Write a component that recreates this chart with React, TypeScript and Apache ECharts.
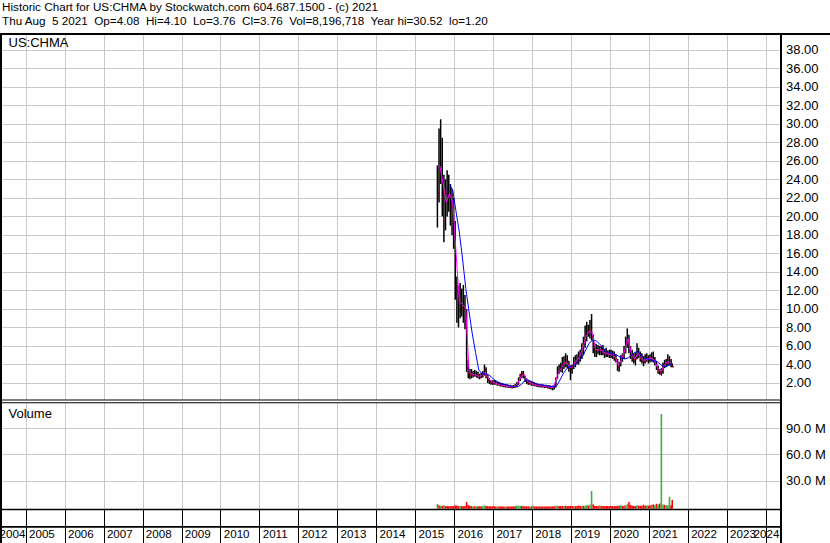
import React, { useEffect, useRef } from 'react';
import * as echarts from 'echarts';

const TITLE_1 = 'Historic Chart for US:CHMA by Stockwatch.com 604.687.1500 - (c) 2021';
const TITLE_2 = 'Thu Aug  5 2021  Op=4.08  Hi=4.10  Lo=3.76  Cl=3.76  Vol=8,196,718  Year hi=30.52  lo=1.20';
const SYMBOL = 'US:CHMA';
const VOLUME_LABEL = 'Volume';

const yearTicks = [2004, 2005, 2006, 2007, 2008, 2009, 2010, 2011, 2012, 2013, 2014, 2015, 2016, 2017, 2018, 2019, 2020, 2021, 2022, 2023, 2024];
const priceTicks = [2, 4, 6, 8, 10, 12, 14, 16, 18, 20, 22, 24, 26, 28, 30, 32, 34, 36, 38];
const volumeTicks = [30e6, 60e6, 90e6];

// half-month bars, first = second half of July 2015, last = first half of Aug 2021
const highs = [
  25.5, 29.5, 30.5, 28.5, 24.5, 24, 25, 24.5, 23.5, 23, 22,
  19.5, 13.5, 12.5, 12.8, 12.2, 12.6, 11.5, 10, 4.5, 3.5, 3.5, 3.3, 3.4, 3.3, 3.2, 3.0, 3.1, 3.3, 4.0, 3.7, 2.9, 2.5, 2.3, 2.3,
  2.3, 2.2, 2.1, 2.1, 2.0, 2.0, 1.9, 1.9, 1.85, 1.8, 1.8, 1.75, 1.8, 1.9, 2.1, 2.6, 3.0, 3.3, 3.3, 2.8, 2.5, 2.3, 2.2, 2.1,
  2.1, 2.0, 1.95, 1.9, 1.9, 1.85, 1.85, 1.8, 1.8, 1.75, 1.75, 1.7, 1.7, 1.8, 2.6, 3.8, 4.0, 4.2, 4.8, 4.9, 5.2, 5.0, 4.4, 3.9,
  4.0, 4.8, 5.0, 5.1, 5.4, 5.6, 6.3, 7.0, 8.2, 8.6, 8.3, 8.8, 9.45, 7.2, 6.3, 6.2, 6.1, 6.0, 6.0, 6.1, 5.7, 5.8, 5.5, 5.6,
  5.6, 5.5, 5.4, 5.1, 4.6, 4.3, 5.0, 5.2, 6.0, 7.0, 7.9, 7.2, 6.0, 5.6, 5.2, 5.3, 6.3, 5.8, 5.4, 5.2, 4.9, 5.1, 5.2, 5.0,
  5.1, 5.3, 5.4, 4.8, 4.4, 3.9, 3.5, 3.6, 4.2, 4.5, 4.6, 5.1, 4.9, 4.6, 4.1,
];
const lows = [
  18.8, 21.5, 23.5, 20, 17.2, 18.5, 20, 20.5, 19, 18, 16.5,
  11, 8.5, 8, 9, 9.2, 8.5, 7.8, 3.2, 2.5, 2.4, 2.5, 2.6, 2.7, 2.6, 2.5, 2.4, 2.5, 2.6, 2.8, 2.5, 2.0, 1.9, 1.8, 1.8,
  1.8, 1.8, 1.7, 1.7, 1.6, 1.6, 1.55, 1.5, 1.5, 1.45, 1.45, 1.4, 1.45, 1.5, 1.55, 1.8, 2.2, 2.5, 2.5, 2.1, 1.9, 1.8, 1.8, 1.7,
  1.7, 1.65, 1.6, 1.55, 1.55, 1.5, 1.5, 1.45, 1.45, 1.4, 1.35, 1.3, 1.2, 1.3, 1.5, 2.5, 3.0, 3.2, 3.1, 3.5, 3.7, 3.6, 3.2, 2.3,
  3.0, 3.5, 3.7, 4.0, 4.0, 4.3, 4.6, 5.0, 5.8, 6.5, 7.0, 6.8, 6.6, 5.2, 4.8, 4.8, 5.1, 5.0, 5.0, 5.0, 4.7, 4.8, 4.8, 4.7,
  4.7, 4.6, 4.4, 4.2, 3.3, 3.2, 3.8, 4.3, 4.6, 5.2, 5.8, 5.2, 4.6, 4.3, 4.1, 3.9, 4.6, 4.7, 4.3, 4.1, 3.8, 4.1, 4.3, 4.1,
  4.2, 4.3, 4.2, 3.9, 3.4, 3.0, 2.9, 2.8, 3.0, 3.6, 3.7, 3.9, 3.9, 3.7, 3.7,
];
const closes = [
  22.5, 27, 25.5, 22, 19.5, 22.5, 23.5, 22, 21, 20.5, 18.5,
  12.5, 10.5, 10, 11, 10.2, 10, 9.5, 3.6, 3.0, 2.8, 2.9, 2.9, 3.0, 2.8, 2.8, 2.7, 2.8, 3.0, 3.4, 2.7, 2.3, 2.1, 2.1, 2.0,
  2.0, 1.9, 1.9, 1.8, 1.8, 1.7, 1.7, 1.65, 1.6, 1.55, 1.6, 1.55, 1.6, 1.7, 1.9, 2.4, 2.8, 3.0, 2.7, 2.3, 2.1, 2.0, 1.9, 1.9,
  1.9, 1.8, 1.75, 1.7, 1.7, 1.65, 1.65, 1.6, 1.6, 1.55, 1.5, 1.5, 1.45, 1.6, 2.4, 3.4, 3.5, 3.8, 4.0, 4.2, 4.5, 4.0, 3.6, 3.5,
  3.7, 4.2, 4.5, 4.6, 4.8, 5.0, 5.6, 6.2, 7.4, 7.6, 7.6, 7.8, 7.0, 5.8, 5.4, 5.6, 5.6, 5.5, 5.6, 5.4, 5.2, 5.3, 5.1, 5.0,
  5.2, 5.0, 4.8, 4.5, 3.7, 3.9, 4.6, 4.8, 5.5, 6.4, 6.8, 5.7, 5.1, 4.7, 4.5, 4.6, 5.4, 5.0, 4.7, 4.5, 4.3, 4.6, 4.7, 4.5,
  4.6, 4.8, 4.5, 4.2, 3.7, 3.3, 3.1, 3.2, 3.8, 4.0, 4.2, 4.6, 4.2, 4.0, 3.76,
];
// volume in millions, same half-month periods
const volumes = [
  3.4, 2.0, 1.5, 1.2, 2.0, 1.0, 1.0, 0.9, 0.8, 1.0, 1.1,
  1.8, 1.6, 1.2, 1.0, 1.0, 1.0, 1.0, 5.7, 2.0, 1.4, 1.0, 0.9, 0.8, 0.8, 0.8, 0.8, 0.8, 0.9, 1.8, 1.0, 1.0, 0.9, 0.8, 0.8,
  0.8, 0.7, 0.7, 0.7, 0.7, 0.6, 0.6, 0.6, 0.6, 0.6, 0.6, 0.6, 0.7, 0.8, 1.8, 1.5, 1.5, 1.2, 1.0, 0.8, 0.7, 0.7, 0.7, 0.7,
  1.5, 0.7, 0.7, 0.6, 0.6, 0.6, 0.6, 0.6, 0.6, 0.6, 0.6, 0.6, 0.8, 0.8, 1.5, 1.5, 1.2, 1.0, 1.2, 1.0, 1.5, 1.0, 1.0, 1.2,
  1.2, 1.0, 1.0, 1.0, 1.5, 1.2, 1.2, 1.5, 1.5, 2.3, 1.5, 2.5, 18.3, 3.0, 1.5, 1.2, 1.2, 2.0, 1.2, 1.0, 1.0, 1.0, 1.0, 1.0,
  1.0, 1.0, 1.0, 1.2, 1.5, 1.5, 2.0, 1.2, 1.5, 2.0, 3.0, 5.7, 2.5, 1.5, 1.2, 1.2, 2.0, 1.5, 1.2, 1.5, 2.5, 1.5, 2.0, 1.5,
  2.0, 2.5, 3.0, 2.0, 3.7, 3.0, 4.0, 106.5, 3.0, 2.5, 2.0, 2.0, 11.8, 2.0, 8.2,
];
const volumeColors = [
  'g', 'r', 'g', 'r', 'g', 'r', 'r', 'r', 'r', 'r', 'r',
  'r', 'r', 'r', 'g', 'r', 'r', 'r', 'r', 'r', 'r', 'r', 'g', 'r', 'g', 'r', 'r', 'r', 'g', 'g', 'r', 'r', 'r', 'r', 'r',
  'r', 'r', 'g', 'r', 'r', 'r', 'r', 'g', 'r', 'r', 'r', 'r', 'r', 'r', 'g', 'g', 'g', 'r', 'r', 'r', 'r', 'r', 'g', 'r',
  'g', 'r', 'r', 'r', 'r', 'r', 'r', 'r', 'r', 'r', 'r', 'r', 'r', 'r', 'g', 'g', 'r', 'r', 'r', 'g', 'r', 'r', 'r', 'r',
  'r', 'g', 'r', 'r', 'r', 'r', 'g', 'r', 'g', 'g', 'r', 'g', 'g', 'r', 'r', 'r', 'r', 'g', 'r', 'r', 'r', 'r', 'r', 'r',
  'r', 'r', 'r', 'r', 'r', 'r', 'g', 'r', 'r', 'g', 'g', 'r', 'r', 'r', 'r', 'r', 'g', 'r', 'r', 'r', 'r', 'r', 'g', 'r',
  'r', 'g', 'r', 'g', 'r', 'g', 'r', 'g', 'g', 'r', 'g', 'g', 'g', 'r', 'r',
];
// short moving average (magenta), monthly from Aug 2015 to Aug 2021
const shortAvg = [
  25.5, 23.5, 21.5, 22.5, 21.5,
  16, 10.8, 10.5, 10.0, 3.2, 2.9, 2.9, 2.7, 2.8, 3.2, 2.5, 2.1,
  2.0, 1.85, 1.75, 1.7, 1.6, 1.6, 1.6, 1.95, 2.7, 2.9, 2.2, 1.95,
  1.85, 1.75, 1.7, 1.65, 1.6, 1.55, 1.5, 2.6, 3.4, 3.9, 4.3, 3.7,
  3.8, 4.4, 4.8, 5.7, 7.0, 7.6, 7.4, 5.6, 5.6, 5.5, 5.2, 5.1,
  5.1, 4.8, 3.9, 4.5, 5.6, 6.8, 5.2, 4.6, 5.2, 4.7, 4.4, 4.6,
  4.7, 4.5, 3.7, 3.2, 3.8, 4.3, 4.2, 4.0,
];
// long moving average (blue), monthly from Nov 2015 to Aug 2021
const longAvg = [
  23.5, 22.8,
  20.5, 18.3, 15.4, 12.2, 9.7, 7.3, 5.3, 3.4, 3.0, 3.0, 2.9, 2.6,
  2.3, 2.1, 1.95, 1.85, 1.75, 1.65, 1.6, 1.6, 1.8, 2.2, 2.35, 2.2,
  2.05, 1.9, 1.8, 1.75, 1.7, 1.65, 1.6, 1.7, 2.3, 3.0, 3.5, 3.8,
  3.8, 4.1, 4.4, 4.9, 5.6, 6.3, 6.6, 6.6, 6.3, 5.9, 5.4, 5.3,
  5.2, 5.1, 4.9, 4.7, 4.6, 4.7, 5.0, 5.3, 5.4, 5.0, 4.7, 4.6,
  4.5, 4.4, 4.3, 4.0, 3.8, 3.8, 4.0, 4.1,
];

const LAST_DATE = 2021.592;
const X_MIN = 2004;
const X_MAX = 2024.384;
const PRICE_MIN = 0.16;
const PRICE_MAX = 39.68;
const VOL_MIN = -1.95e6;
const VOL_MAX = 119.1e6;
const FONT = 'Arial, "Liberation Sans", sans-serif';

function halfMonthTimes(y0: number, m0: number, h0: number, n: number) {
  const out: number[] = [];
  let y = y0, m = m0, h = h0;
  for (let i = 0; i < n; i++) {
    out.push(Math.min(LAST_DATE, y + (m - 1) / 12 + (h * 0.5 + 0.25) / 12));
    h++;
    if (h > 1) { h = 0; m++; if (m > 12) { m = 1; y++; } }
  }
  return out;
}
function monthTimes(y0: number, m0: number, n: number) {
  const out: number[] = [];
  let y = y0, m = m0;
  for (let i = 0; i < n; i++) {
    out.push(Math.min(LAST_DATE, y + (m - 1) / 12 + 0.5 / 12));
    m++;
    if (m > 12) { m = 1; y++; }
  }
  return out;
}

const barTimes = halfMonthTimes(2015, 7, 1, closes.length);
const bars = barTimes.map((t, i) => [t, highs[i], lows[i], closes[i]]);
const volData = barTimes.map((t, i) => [t, volumes[i] * 1e6, volumeColors[i] === 'g' ? 1 : 0]);
const shortTimes = monthTimes(2015, 8, shortAvg.length);
const longTimes = monthTimes(2015, 11, longAvg.length);
const shortData = shortTimes.map((t, i) => [t, shortAvg[i]]);
const longData = longTimes.map((t, i) => [t, longAvg[i]]);

function buildOption(): any {
  const gridX = (gi: number) => ({
    type: 'value', gridIndex: gi, min: X_MIN, max: X_MAX,
    axisLine: { show: false },
    axisTick: { show: false, customValues: yearTicks },
    axisLabel: { show: false },
    splitLine: { show: true, lineStyle: { color: '#c8c8c8', width: 1 } },
  });
  const rect = (x: number, y: number, w: number, h: number) => ({
    type: 'rect', z: 50, silent: true, shape: { x, y, width: w, height: h }, style: { fill: '#000' },
  });
  const yearRich = {
    mid: { width: 30, align: 'left', padding: [0, 0, 0, 36], fontSize: 11.6, fontFamily: FONT, color: '#000' },
    first: { width: 30, align: 'left', padding: [0, 0, 0, 55], fontSize: 11.6, fontFamily: FONT, color: '#000' },
    last: { width: 30, align: 'left', padding: [0, 0, 0, 5], fontSize: 11.6, fontFamily: FONT, color: '#000' },
  };
  const yearFormatter = (v: number) => {
    const key = v === yearTicks[0] ? 'first' : v === yearTicks[yearTicks.length - 1] ? 'last' : 'mid';
    return '{' + key + '|' + v + '}';
  };
  const gridBase = { left: -12.95, right: 49, containLabel: false, outerBoundsMode: 'none' };
  return {
    animation: false,
    backgroundColor: '#fff',
    title: [
      { text: TITLE_1, left: 2, top: 0, padding: 0, textStyle: { fontSize: 11.7, fontWeight: 'normal', color: '#000', fontFamily: FONT } },
      { text: TITLE_2, left: 2, top: 14, padding: 0, textStyle: { fontSize: 11.7, fontWeight: 'normal', color: '#000', fontFamily: FONT } },
      { text: SYMBOL, left: 8.5, top: 35.5, padding: 0, textStyle: { fontSize: 13, fontWeight: 'normal', color: '#000', fontFamily: FONT } },
      { text: VOLUME_LABEL, left: 8.5, top: 407, padding: 0, textStyle: { fontSize: 13, fontWeight: 'normal', color: '#000', fontFamily: FONT } },
    ],
    grid: [
      { ...gridBase, top: 34.3, height: 365.7 },
      { ...gridBase, top: 403, height: 105.7 },
      { ...gridBase, top: 509, height: 34 },
    ],
    xAxis: [
      gridX(0),
      gridX(1),
      {
        type: 'value', gridIndex: 2, position: 'top', min: X_MIN, max: X_MAX,
        axisLine: { show: false },
        axisTick: { show: false, customValues: yearTicks },
        axisLabel: {
          show: true, inside: true, margin: 18.5, customValues: yearTicks.slice(0, -1),
          showMinLabel: true, showMaxLabel: true, hideOverlap: false,
          color: '#000', fontSize: 11.6, fontFamily: FONT,
          formatter: yearFormatter, rich: yearRich,
        },
        splitLine: { show: true, lineStyle: { color: '#000', width: 1 } },
      },
      {
        type: 'value', gridIndex: 2, position: 'top', min: X_MIN, max: X_MAX,
        axisLine: { show: false },
        axisTick: { show: false, customValues: yearTicks.slice(-1) },
        axisLabel: {
          show: true, inside: true, margin: 18.5, customValues: yearTicks.slice(-1),
          showMinLabel: true, showMaxLabel: true, hideOverlap: false,
          color: '#000', fontSize: 11.6, fontFamily: FONT,
          formatter: yearFormatter, rich: yearRich,
        },
        splitLine: { show: false },
      },
    ],
    yAxis: [
      {
        type: 'value', gridIndex: 0, position: 'right', min: PRICE_MIN, max: PRICE_MAX,
        axisLine: { show: false },
        axisTick: { show: false, customValues: priceTicks },
        axisLabel: { customValues: priceTicks, formatter: (v: number) => v.toFixed(2), margin: 5, color: '#000', fontSize: 13, fontFamily: FONT },
        splitLine: { show: true, lineStyle: { color: '#c8c8c8', width: 1 } },
      },
      {
        type: 'value', gridIndex: 1, position: 'right', min: VOL_MIN, max: VOL_MAX,
        axisLine: { show: false },
        axisTick: { show: false, customValues: volumeTicks },
        axisLabel: { customValues: volumeTicks, formatter: (v: number) => (v / 1e6).toFixed(1) + ' M', margin: 5, color: '#000', fontSize: 13, fontFamily: FONT },
        splitLine: { show: true, lineStyle: { color: '#c8c8c8', width: 1 } },
      },
      { type: 'value', gridIndex: 2, show: false, min: 0, max: 1 },
    ],
    series: [
      {
        type: 'custom', xAxisIndex: 0, yAxisIndex: 0, silent: true, z: 2,
        data: bars,
        encode: { x: 0, y: [1, 2] },
        renderItem: (params: any, api: any) => {
          const t = api.value(0);
          const hi = api.coord([t, api.value(1)]);
          const lo = api.coord([t, api.value(2)]);
          const cl = api.coord([t, api.value(3)]);
          return {
            type: 'group',
            children: [
              { type: 'rect', shape: { x: hi[0] - 0.75, y: hi[1], width: 1.5, height: Math.max(1, lo[1] - hi[1]) }, style: { fill: '#000' } },
              { type: 'rect', shape: { x: cl[0] + 0.3, y: cl[1] - 0.7, width: 1.4, height: 1.5 }, style: { fill: '#ff0000' } },
            ],
          };
        },
      },
      {
        type: 'line', xAxisIndex: 0, yAxisIndex: 0, data: shortData, showSymbol: false, silent: true, z: 3,
        lineStyle: { color: '#ff00ff', width: 1 },
      },
      {
        type: 'line', xAxisIndex: 0, yAxisIndex: 0, data: longData, showSymbol: false, silent: true, z: 4,
        lineStyle: { color: '#0000ff', width: 1 },
      },
      {
        type: 'custom', xAxisIndex: 1, yAxisIndex: 1, silent: true,
        data: volData,
        encode: { x: 0, y: 1 },
        renderItem: (params: any, api: any) => {
          const t = api.value(0);
          const top = api.coord([t, api.value(1)]);
          const base = params.coordSys.y + params.coordSys.height;
          return {
            type: 'rect',
            shape: { x: top[0] - 0.8, y: top[1], width: 1.6, height: Math.max(0.5, base - top[1]) },
            style: { fill: api.value(2) === 1 ? '#3cb043' : '#ff0000' },
          };
        },
      },
    ],
    graphic: [
      rect(0, 33, 830, 2),
      rect(0, 33, 2, 510),
      rect(780, 33, 2, 510),
      rect(2, 399.5, 778, 1),
      rect(2, 402.2, 778, 1),
      rect(0, 508.7, 782, 1.6),
      rect(0, 526, 782, 1.8),
    ],
  };
}

export default function App() {
  const ref = useRef<HTMLDivElement>(null);
  useEffect(() => {
    document.body.style.margin = '0';
    const chart = echarts.init(ref.current!, null, { renderer: 'svg' });
    chart.setOption(buildOption());
    return () => chart.dispose();
  }, []);
  return <div ref={ref} style={{ width: 830, height: 543 }} />;
}
